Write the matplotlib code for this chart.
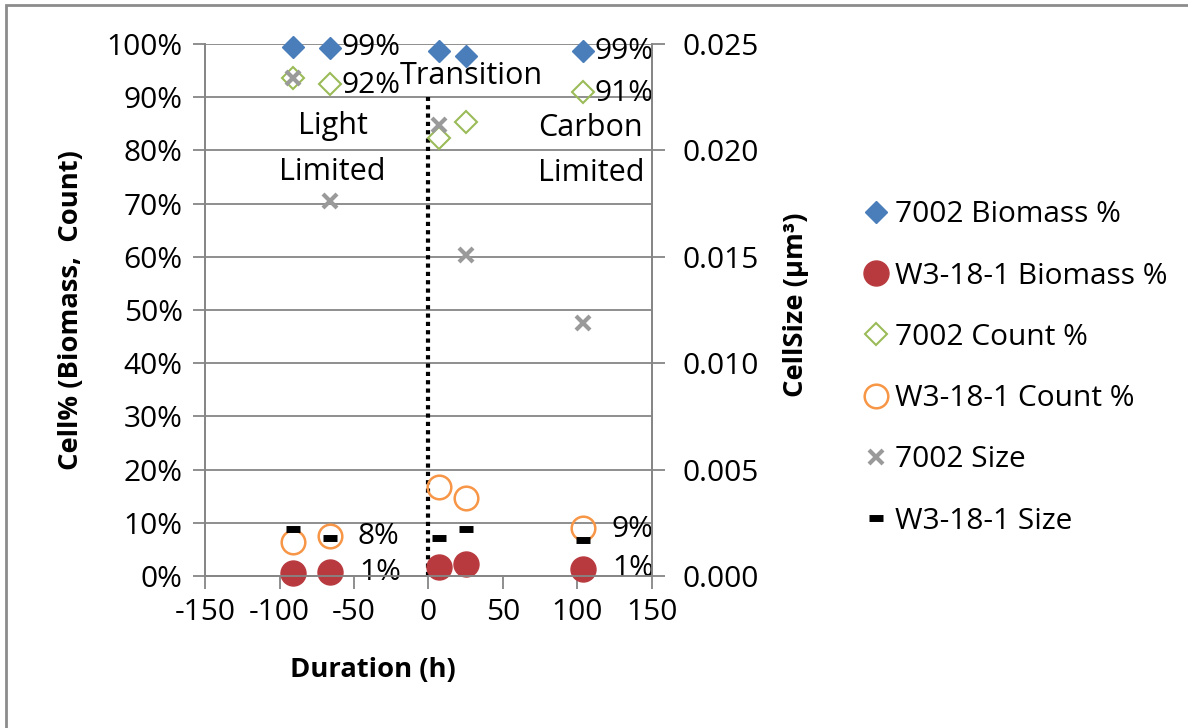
import numpy as np
import matplotlib
matplotlib.use('Agg')
import matplotlib.pyplot as plt
from matplotlib.ticker import PercentFormatter, FormatStrFormatter, MultipleLocator
from matplotlib.patches import Rectangle

plt.rcParams['font.family'] = ['Open Sans', 'DejaVu Sans']
plt.rcParams['font.size'] = 21
plt.rcParams['axes.unicode_minus'] = False

# Data
duration = [-91, -66, 7, 25, 104]
bio_7002 = [0.994, 0.993, 0.986, 0.977, 0.986]
bio_w3 = [0.006, 0.007, 0.017, 0.023, 0.014]
count_7002 = [0.937, 0.924, 0.823, 0.854, 0.910]
count_w3 = [0.064, 0.076, 0.168, 0.146, 0.090]
size_7002 = [0.0234, 0.0176, 0.0212, 0.0151, 0.0119]
size_w3 = [0.0022, 0.0018, 0.0018, 0.0022, 0.0017]

# which points carry a value label
label_idx = [1, 4]

# dotted divider at t = 0
divider_x = [0, 0]
divider_y = [0, 0.9]

GRID = '#868686'
FS = 21.5

fig = plt.figure(figsize=(11.88, 7.28), dpi=100)
ax = fig.add_axes([205 / 1188, 1 - 576 / 728, 447 / 1188, 532 / 728])
ax2 = ax.twinx()

# outer chart border
fig.patches.append(Rectangle((6 / 1188, -0.05), 1.2, 1 - 5 / 728 + 0.05, transform=fig.transFigure,
                             fill=False, edgecolor='#8c8c8c', linewidth=2))

ax.set_xlim(-150, 150)
ax.set_ylim(0, 1)
ax2.set_ylim(0, 0.025)

ax.xaxis.set_major_locator(MultipleLocator(50))
ax.yaxis.set_major_locator(MultipleLocator(0.1))
ax.yaxis.set_major_formatter(PercentFormatter(xmax=1, decimals=0))
ax2.yaxis.set_major_locator(MultipleLocator(0.005))
ax2.yaxis.set_major_formatter(FormatStrFormatter('%.3f'))

ax.grid(axis='y', color=GRID, linewidth=1.3)
ax.set_axisbelow(True)
for a in (ax, ax2):
    for s in a.spines.values():
        s.set_color(GRID)
        s.set_linewidth(1.3)
    a.spines['top'].set_visible(False)
ax.tick_params(axis='both', direction='out', length=9, width=1.3, color=GRID, labelsize=FS)
ax.tick_params(axis='y', pad=7)
ax.tick_params(axis='x', pad=7)
ax2.tick_params(axis='y', direction='out', length=9, width=1.3, color=GRID, labelsize=FS, pad=13)

# divider
ax.plot(divider_x, divider_y, color='black', linestyle=(0, (1, 1)), linewidth=3, zorder=2)

h1, = ax.plot(duration, bio_7002, linestyle='none', marker='D', markersize=11,
              color='#4a7ebb', label='7002 Biomass %', zorder=4, clip_on=False)
h2, = ax.plot(duration, bio_w3, linestyle='none', marker='o', markersize=18,
              color='#b83a3e', label='W3-18-1 Biomass %', zorder=4, clip_on=False)
h3, = ax.plot(duration, count_7002, linestyle='none', marker='D', markersize=11,
              markerfacecolor='none', markeredgecolor='#9bbb59', markeredgewidth=1.5,
              label='7002 Count %', zorder=4, clip_on=False)
h4, = ax.plot(duration, count_w3, linestyle='none', marker='o', markersize=17,
              markerfacecolor='none', markeredgecolor='#f79646', markeredgewidth=1.8,
              label='W3-18-1 Count %', zorder=4, clip_on=False)
h5, = ax2.plot(duration, size_7002, linestyle='none', marker='x', markersize=10,
               markeredgewidth=3, color='#9a9a9a', label='7002 Size', zorder=4, clip_on=False)
h6, = ax2.plot(duration, size_w3, linestyle='none', marker='_', markersize=10,
               markeredgewidth=5, color='black', label='W3-18-1 Size', zorder=4, clip_on=False)

# value labels
for i in label_idx:
    ax.annotate(f'{bio_7002[i]:.0%}', (duration[i], bio_7002[i]), xytext=(8, 0),
                textcoords='offset points', ha='left', va='center', fontsize=FS)
    ax.annotate(f'{count_7002[i]:.0%}', (duration[i], count_7002[i]), xytext=(8, -1),
                textcoords='offset points', ha='left', va='center', fontsize=FS)
    ax.annotate(f'{count_w3[i]:.0%}', (duration[i], count_w3[i]), xytext=(20, -1),
                textcoords='offset points', ha='left', va='center', fontsize=FS)
    ax.annotate(f'{bio_w3[i]:.0%}', (duration[i], bio_w3[i]), xytext=(21, 0),
                textcoords='offset points', ha='left', va='center', fontsize=FS)

# region annotations
ax.text(28.7, 0.939, 'Transition', ha='center', va='center', fontsize=22)
ax.text(-64, 0.845, 'Light', ha='center', va='center', fontsize=22)
ax.text(-64.5, 0.760, 'Limited', ha='center', va='center', fontsize=22)
ax.text(109, 0.842, 'Carbon', ha='center', va='center', fontsize=22)
ax.text(109.5, 0.757, 'Limited', ha='center', va='center', fontsize=22)

ax.set_xlabel('Duration (h)', fontweight='bold', fontsize=19.7)
ax.xaxis.set_label_coords(0.376, -0.152)
ax.set_ylabel('Cell% (Biomass,  Count)', fontweight='bold', fontsize=19.7)
ax.yaxis.set_label_coords(-0.2707, 0.5)
ax2.set_ylabel('CellSize (µm³)', fontweight='bold', fontsize=19.7)
ax2.yaxis.set_label_coords(1.293, 0.51)

fig.legend(handles=[h1, h2, h3, h4, h5, h6], loc='center left',
           bbox_to_anchor=(852 / 1188, 1 - 368 / 728), frameon=False,
           numpoints=1, handlelength=0.8, handletextpad=0.25, labelspacing=1.08,
           fontsize=FS, borderaxespad=0)

fig.savefig('out.png', dpi=100)
